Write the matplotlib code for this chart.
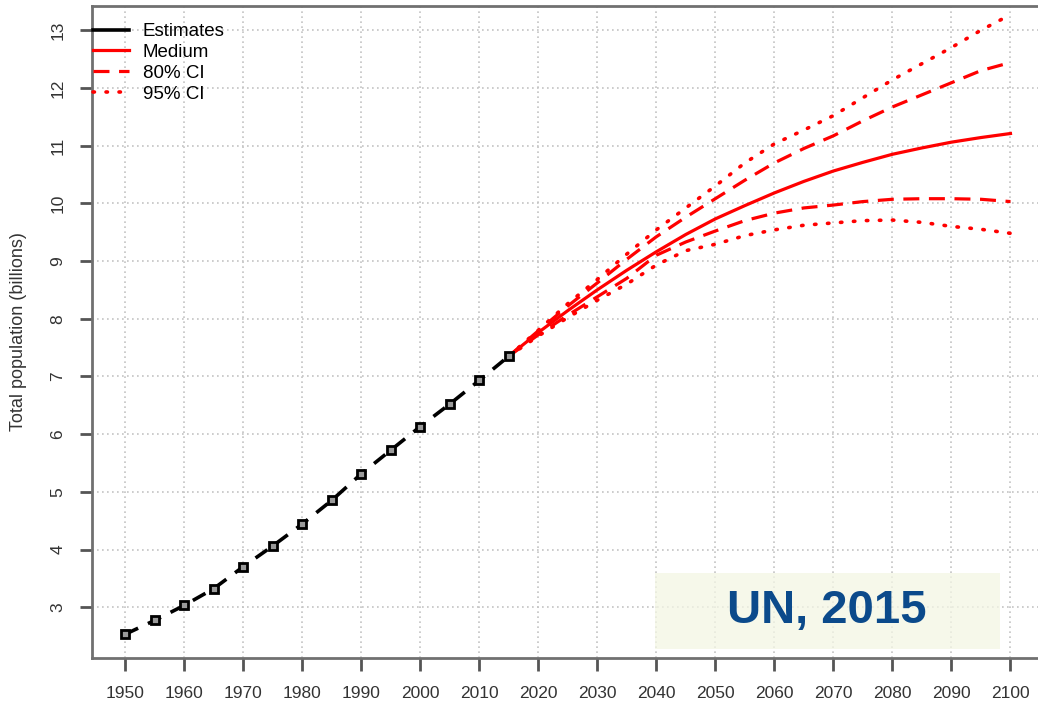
import matplotlib.pyplot as plt
from matplotlib.patches import Rectangle

plt.rcParams['font.family'] = ['Liberation Sans', 'DejaVu Sans']

# Observed world population (billions)
est_years = [1950, 1955, 1960, 1965, 1970, 1975, 1980, 1985, 1990, 1995, 2000, 2005, 2010, 2015]
estimates = [2.53, 2.77, 3.03, 3.32, 3.70, 4.06, 4.44, 4.85, 5.31, 5.72, 6.13, 6.52, 6.93, 7.35]

# Projections 2015-2100
proj_years = list(range(2015, 2101, 5))
medium = [7.35, 7.76, 8.14, 8.50, 8.84, 9.16, 9.46, 9.73, 9.96, 10.18,
          10.38, 10.56, 10.71, 10.85, 10.96, 11.06, 11.14, 11.21]
upper80 = [7.35, 7.79, 8.22, 8.62, 9.03, 9.42, 9.76, 10.08, 10.40, 10.70,
           10.95, 11.17, 11.43, 11.67, 11.88, 12.09, 12.30, 12.44]
lower80 = [7.35, 7.72, 8.06, 8.38, 8.70, 9.10, 9.33, 9.52, 9.70, 9.83,
           9.92, 9.97, 10.03, 10.07, 10.08, 10.08, 10.07, 10.03]
upper95 = [7.35, 7.80, 8.26, 8.68, 9.12, 9.54, 9.92, 10.30, 10.70, 11.03,
           11.27, 11.52, 11.83, 12.14, 12.42, 12.70, 13.00, 13.27]
lower95 = [7.35, 7.70, 8.02, 8.32, 8.60, 8.93, 9.18, 9.29, 9.44, 9.54,
           9.62, 9.66, 9.70, 9.71, 9.67, 9.60, 9.55, 9.48]

x_ticks = list(range(1950, 2101, 10))
y_ticks = list(range(3, 14))

fig = plt.figure(figsize=(10.38, 7.05), dpi=100)
ax = fig.add_axes([0.0886, 0.0667, 0.919, 0.9248])

red = '#ff0000'
dash = (0, (5, 3))
dots = (0, (0.4, 3.2))
ax.plot(est_years, estimates, color='black', lw=2.6, ls=(0, (4, 3)),
        marker='s', ms=5.5, mfc='#9a9a9a', mec='black', mew=2, zorder=4)
ax.plot(proj_years, medium, color=red, lw=2.3, zorder=3)
ax.plot(proj_years, upper80, color=red, lw=2.3, ls=dash, zorder=3)
ax.plot(proj_years, lower80, color=red, lw=2.3, ls=dash, zorder=3)
ax.plot(proj_years, upper95, color=red, lw=2.6, ls=dots, dash_capstyle='round', zorder=3)
ax.plot(proj_years, lower95, color=red, lw=2.6, ls=dots, dash_capstyle='round', zorder=3)

ax.set_xlim(1944.4, 2106)
ax.set_ylim(2.12, 13.42)
ax.set_xticks(x_ticks)
ax.set_yticks(y_ticks)
ax.grid(True, color='#c4c4c4', ls=(0, (1, 2)), lw=1.2)

for side in ['left', 'bottom', 'top', 'right']:
    ax.spines[side].set_color('#707070')
    ax.spines[side].set_linewidth(2)

ax.tick_params(axis='both', direction='out', length=9, width=2, color='#555555',
               labelsize=12.5, labelcolor='#333333')
ax.tick_params(axis='x', pad=11)
ax.tick_params(axis='y', pad=10, labelrotation=90)
for lab in ax.get_yticklabels():
    lab.set_va('center')

ax.set_ylabel('Total population (billions)', fontsize=13, color='#333333', labelpad=17)

# Legend built from proxy lines
handles = [
    plt.Line2D([], [], color='black', lw=2.6),
    plt.Line2D([], [], color=red, lw=2.3),
    plt.Line2D([], [], color=red, lw=2.3, ls=dash),
    plt.Line2D([], [], color=red, lw=2.6, ls=dots, dash_capstyle='round'),
]
ax.legend(handles, ['Estimates', 'Medium', '80% CI', '95% CI'],
          loc='upper left', bbox_to_anchor=(0.001, 0.974), frameon=False,
          fontsize=13.5, handlelength=1.9, handletextpad=0.75,
          labelspacing=0.2, borderpad=0, borderaxespad=0)

# Source label box
fig.patches.append(Rectangle((0.631, 0.0794), 0.332, 0.108, transform=fig.transFigure,
                             facecolor='#f3f6e4', alpha=0.75, edgecolor='none', zorder=5))
fig.text(0.797, 0.1335, 'UN, 2015', ha='center', va='center', fontsize=34,
         fontweight='bold', color='#0b4a8b', zorder=6)

fig.savefig('out.png', dpi=100)
